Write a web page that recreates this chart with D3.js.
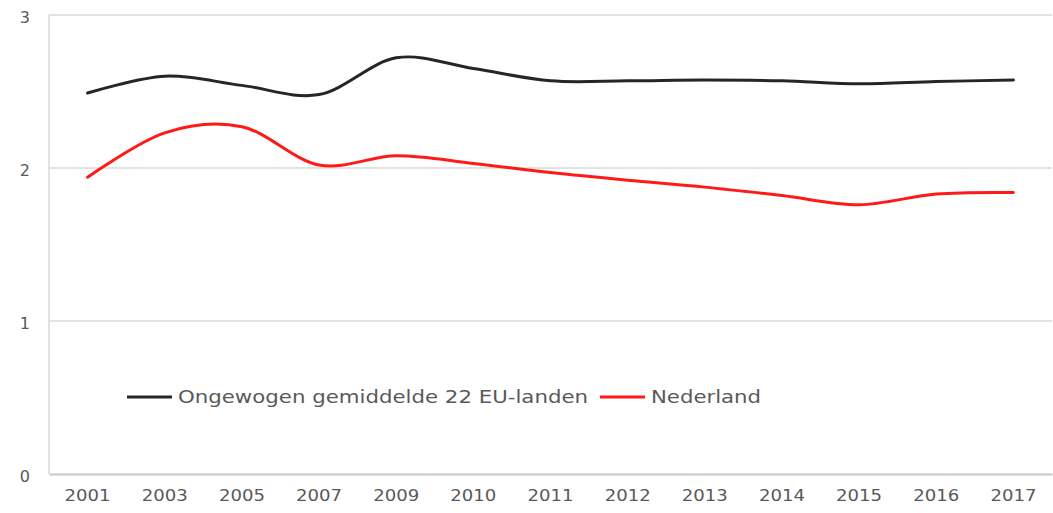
<!DOCTYPE html>
<html>
<head>
<meta charset="utf-8">
<script src="https://cdn.jsdelivr.net/npm/d3@7"></script>
<style>
  body { margin: 0; background: #fff; }
  svg text { font-family: Verdana, "DejaVu Sans", sans-serif; fill: #595959; }
</style>
</head>
<body>
<svg id="chart" width="1053" height="513"></svg>
<script>
// Years on the x axis
const years = ["2001", "2003", "2005", "2007", "2009", "2010", "2011", "2012", "2013", "2014", "2015", "2016", "2017"];
// Ongewogen gemiddelde 22 EU-landen
const euAverage = [2.49, 2.60, 2.54, 2.48, 2.72, 2.65, 2.57, 2.57, 2.575, 2.57, 2.55, 2.565, 2.575];
// Nederland
const netherlands = [1.94, 2.23, 2.27, 2.02, 2.08, 2.03, 1.97, 1.92, 1.875, 1.82, 1.76, 1.83, 1.84];
const yTicks = [0, 1, 2, 3];

const series = [
  { name: "Ongewogen gemiddelde 22 EU-landen", values: euAverage, color: "#262626", textWidth: 410 },
  { name: "Nederland", values: netherlands, color: "#ff1a1a", textWidth: 110 }
];

const svg = d3.select("#chart");
const margin = { top: 15, right: 1, bottom: 39, left: 49 };
const width = 1053 - margin.left - margin.right;
const height = 513 - margin.top - margin.bottom;

const g = svg.append("g")
  .attr("transform", `translate(${margin.left},${margin.top})`);

const x = d3.scaleBand()
  .domain(years)
  .range([0, width]);

const y = d3.scaleLinear()
  .domain([0, 3])
  .range([height, 0]);

// gridlines
g.selectAll(".grid")
  .data(yTicks.filter(d => d > 0))
  .enter().append("line")
  .attr("class", "grid")
  .attr("x1", 0)
  .attr("x2", width)
  .attr("y1", d => y(d))
  .attr("y2", d => y(d))
  .attr("stroke", "#d9d9d9")
  .attr("stroke-width", 1.5);

// left axis line
g.append("line")
  .attr("x1", 0).attr("x2", 0)
  .attr("y1", 0).attr("y2", height)
  .attr("stroke", "#d9d9d9")
  .attr("stroke-width", 1.5);

// y labels
g.selectAll(".ylab")
  .data(yTicks)
  .enter().append("text")
  .attr("class", "ylab")
  .attr("x", -19)
  .attr("y", d => y(d) + 3)
  .attr("text-anchor", "end")
  .attr("dominant-baseline", "middle")
  .style("font-size", "16px")
  .text(d => d);

// bottom axis
const xAxis = g.append("g")
  .attr("transform", `translate(0,${height})`)
  .call(d3.axisBottom(x).tickSize(0).tickPadding(16));
xAxis.select(".domain").attr("stroke", "#d0d0d0").attr("stroke-width", 2.5);
xAxis.selectAll("text")
  .attr("textLength", 46)
  .attr("lengthAdjust", "spacingAndGlyphs")
  .style("font-size", "16px")
  .style("fill", "#595959")
  .style("font-family", 'Verdana, "DejaVu Sans", sans-serif');

// lines
const line = d3.line()
  .x((d, i) => x(years[i]) + x.bandwidth() / 2)
  .y(d => y(d))
  .curve(d3.curveCatmullRom.alpha(0));

g.selectAll(".series")
  .data(series)
  .enter().append("path")
  .attr("class", "series")
  .attr("fill", "none")
  .attr("stroke", d => d.color)
  .attr("stroke-width", 3)
  .attr("stroke-linecap", "round")
  .attr("d", d => line(d.values));

// legend
const legend = svg.append("g").attr("transform", "translate(127,397)");
let lx = 0;
series.forEach(s => {
  legend.append("line")
    .attr("x1", lx).attr("x2", lx + 45)
    .attr("y1", 0).attr("y2", 0)
    .attr("stroke", s.color)
    .attr("stroke-width", 3);
  legend.append("text")
    .attr("x", lx + 51)
    .attr("y", 1)
    .attr("dominant-baseline", "middle")
    .attr("textLength", s.textWidth)
    .attr("lengthAdjust", "spacingAndGlyphs")
    .style("font-size", "17.5px")
    .text(s.name);
  lx += 51 + s.textWidth + 12;
});
</script>
</body>
</html>
